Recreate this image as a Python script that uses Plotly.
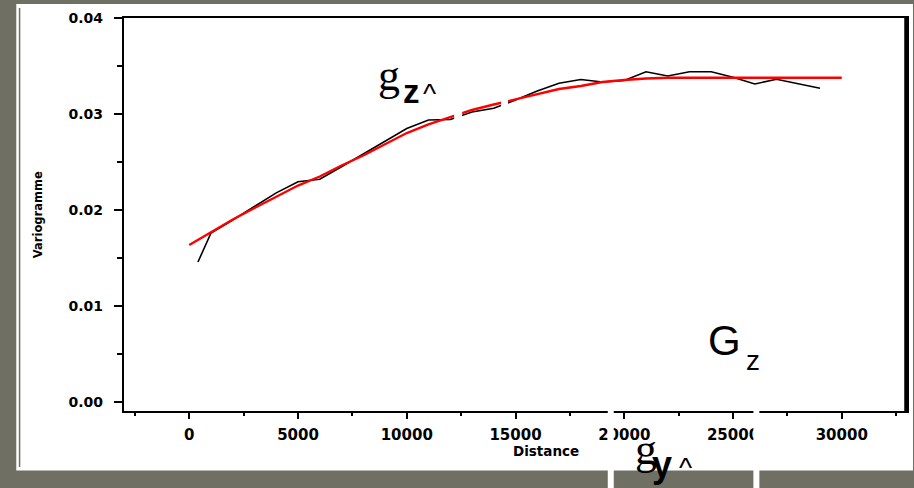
import plotly.graph_objects as go

# ---------------- data ----------------
lag_emp = [400, 1000, 2000, 3000, 4000, 5000, 6000, 7000, 8000, 9000,
           10000, 11000, 12000, 13000, 14000, 15000, 16000, 17000, 18000,
           19000, 20000, 21000, 22000, 23000, 24000, 25000, 26000, 27000,
           28000, 29000]
gamma_emp = [0.01458, 0.01760, 0.01896, 0.02034, 0.02178, 0.02295, 0.02320,
             0.02450, 0.02583, 0.02714, 0.02849, 0.02938, 0.02943, 0.03020,
             0.03060, 0.03146, 0.03240, 0.03320, 0.03359, 0.03333, 0.03349,
             0.03440, 0.03396, 0.03440, 0.03440, 0.03382, 0.03313, 0.03361,
             0.03313, 0.03268]

lag_model = [0, 1000, 2000, 3000, 4000, 5000, 6000, 7000, 8000, 9000, 10000,
             11000, 12000, 13000, 14000, 15000, 16000, 17000, 18000, 19000,
             20000, 21000, 22000, 30000]
gamma_model = [0.01635, 0.01766, 0.01901, 0.02021, 0.02141, 0.02255, 0.02349,
               0.02464, 0.02568, 0.02682, 0.02802, 0.02891, 0.02969, 0.03042,
               0.03099, 0.03151, 0.03208, 0.03260, 0.03292, 0.03333, 0.03354,
               0.03370, 0.03378, 0.03378]

x_ticks = [0, 5000, 10000, 15000, 20000, 25000, 30000]
x_ticktext = ["0", "5000", "10000", "15000", "20000", "25000", "30000"]
y_ticks = [0.00, 0.01, 0.02, 0.03, 0.04]
y_ticktext = ["0.00", "0.01", "0.02", "0.03", "0.04"]

x_title = "Distance"
y_title = "Variogramme"

# ---------------- layout helpers (pixel -> paper) ----------------
W, H = 914, 488
L, R, T, B = 124, 5, 18, 77
PW, PH = W - L - R, H - T - B


def px(x):
    return (x - L) / PW


def py(y):
    return (H - B - y) / PH


GRAY = "#6f6f63"
TICKFONT = "DejaVu Sans"

fig = go.Figure()
fig.add_trace(go.Scatter(x=lag_emp, y=gamma_emp, mode="lines",
                         line=dict(color="#000000", width=1.6),
                         showlegend=False, hoverinfo="skip"))
fig.add_trace(go.Scatter(x=lag_model, y=gamma_model, mode="lines",
                         line=dict(color="#ff0000", width=2.4),
                         showlegend=False, hoverinfo="skip"))

shapes = []
# white slide area
shapes.append(dict(type="rect", xref="paper", yref="paper", layer="below",
                   x0=px(16), x1=px(915), y0=py(4), y1=py(470.5),
                   fillcolor="white", line=dict(width=0)))
# thin grey vertical line
shapes.append(dict(type="line", xref="paper", yref="paper", layer="below",
                   x0=px(19.3), x1=px(19.3), y0=py(8), y1=py(467),
                   line=dict(color=GRAY, width=1.5)))
# thicker right frame
shapes.append(dict(type="line", xref="paper", yref="paper", layer="above",
                   x0=px(908), x1=px(908), y0=py(17), y1=py(412),
                   line=dict(color="black", width=3.5)))
# white masks (text-box edges)
for (x0, x1, y0, y1) in [(455, 463, 98, 128), (502, 509, 90, 112),
                         (609, 615, 400, 489), (755, 761, 400, 489)]:
    shapes.append(dict(type="rect", xref="paper", yref="paper", layer="above",
                       x0=px(x0), x1=px(x1), y0=py(y0), y1=py(y1),
                       fillcolor="white", line=dict(width=0)))

ann = []


def txt(text, x, yc, family, size, bold=False, angle=0, xanchor="left"):
    t = f"<b>{text}</b>" if bold else text
    ann.append(dict(text=t, xref="paper", yref="paper", x=px(x), y=py(yc),
                    xanchor=xanchor, yanchor="middle", showarrow=False,
                    textangle=angle, borderpad=0, borderwidth=0,
                    font=dict(family=family, size=size, color="black")))


# axis titles
txt(x_title, 547.5, 451, TICKFONT, 13.5, bold=True, xanchor="center")
txt(y_title, 38, 215, TICKFONT, 11.5, bold=True, angle=-90, xanchor="center")

# g_z^
txt("g", 379, 90 - 0.34 * 44, "Liberation Serif", 44)
txt("z", 404, 103.5 - 0.35 * 33, "Liberation Sans", 33, bold=True)
txt("^", 424, 103.5 - 0.35 * 28, "Liberation Sans", 28)
# g_y^
txt("g", 636, 464 - 0.34 * 44, "Liberation Serif", 44)
txt("y", 653, 477 - 0.35 * 36, "Liberation Sans", 36, bold=True)
txt("^", 680, 477 - 0.35 * 28, "Liberation Sans", 28)
# G_z
txt("G", 709, 355 - 0.35 * 42, "Liberation Sans", 42)
txt("z", 748, 370 - 0.35 * 28, "Liberation Sans", 28)

fig.update_layout(
    width=W, height=H, autosize=False,
    margin=dict(l=L, r=R, t=T, b=B, pad=0),
    paper_bgcolor=GRAY, plot_bgcolor="white",
    shapes=shapes, annotations=ann,
    xaxis=dict(range=[-3000, 33000], tickvals=x_ticks, ticktext=x_ticktext,
               showgrid=False, zeroline=False, showline=True, mirror=True,
               linecolor="black", linewidth=2.2, ticks="outside", ticklen=6,
               tickwidth=2, tickcolor="black", ticklabelstandoff=3,
               tickfont=dict(family=TICKFONT, size=15, color="black",
                             weight="bold"),
               minor=dict(dtick=2500, tick0=0, ticks="outside", ticklen=3,
                          tickwidth=2, tickcolor="black"),
               fixedrange=True),
    yaxis=dict(range=[-0.0009375, 0.04], tickvals=y_ticks,
               ticktext=y_ticktext,
               showgrid=False, zeroline=False, showline=True, mirror=True,
               linecolor="black", linewidth=2.2, ticks="outside", ticklen=8,
               tickwidth=2, tickcolor="black", ticklabelstandoff=8,
               tickfont=dict(family=TICKFONT, size=14, color="black",
                             weight="bold"),
               minor=dict(dtick=0.005, tick0=0, ticks="outside", ticklen=5,
                          tickwidth=2, tickcolor="black"),
               fixedrange=True),
)

fig.write_html(
    "out.html",
    config={"displayModeBar": False},
    post_script="document.body.style.margin='0';"
                "document.body.style.overflow='hidden';",
)
